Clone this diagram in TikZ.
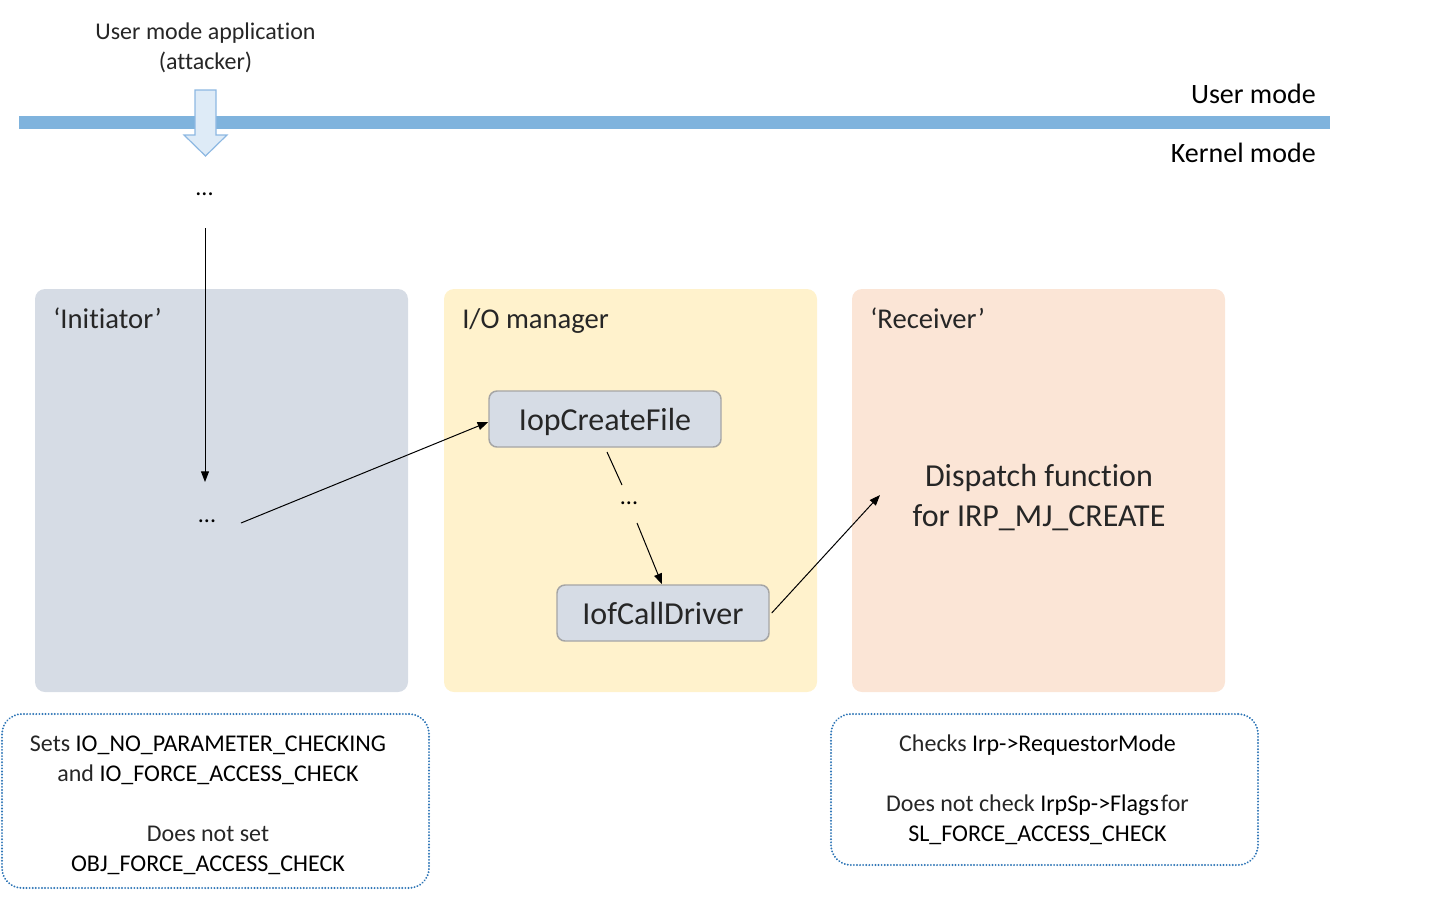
\documentclass[tikz,border=0pt]{standalone}
\usepackage{fontspec}
\setmainfont{Carlito}[Ligatures=NoCommon]
\usetikzlibrary{arrows.meta}
\definecolor{initfill}{HTML}{D6DCE5}
\definecolor{iofill}{HTML}{FFF2CC}
\definecolor{recvfill}{HTML}{FBE5D6}
\definecolor{fnborder}{HTML}{A5A5A5}
\definecolor{modeline}{HTML}{7FB3DD}
\definecolor{barrowfill}{HTML}{DEEBF7}
\definecolor{barrowdraw}{HTML}{8DB8E2}
\definecolor{dotblue}{HTML}{2E75B6}
\definecolor{lighttext}{HTML}{262626}
\tikzset{
  region/.style={fill=#1, draw=none, rounded corners=7.5pt, minimum width=279.75pt, minimum height=302.25pt, inner sep=0pt},
  regionlabel/.style={anchor=base west, font=\fontsize{21.5}{25}\selectfont, text=lighttext, inner sep=0pt},
  fnbox/.style={fill=initfill, draw=fnborder, line width=1.1pt, rounded corners=6pt, minimum height=42pt, inner sep=0pt, text depth=0pt, font=\fontsize{24}{29}\selectfont, text=lighttext},
  notebox/.style={draw=dotblue, line width=1.6pt, line cap=round, dash pattern=on 0.01pt off 2.3pt, rounded corners=15pt, minimum width=320.25pt, inner sep=0pt},
  notetext/.style={align=center, font=\fontsize{18}{22.5}\selectfont, text=lighttext, inner sep=0pt},
  dotsnode/.style={font=\fontsize{18}{22}\selectfont, inner sep=1pt},
  conn/.style={line width=0.75pt, -{Triangle[length=8pt,width=6pt]}},
  plainconn/.style={line width=0.75pt},
  modetext/.style={anchor=east, font=\fontsize{21}{25}\selectfont, inner sep=0pt}
}
\begin{document}
\begin{tikzpicture}[x=0.75pt,y=-0.75pt]
\useasboundingbox (0,0) rectangle (1447,901);
% mode separator
\draw[modeline, line width=9.75pt] (19,122.5) -- (1330,122.5);
\node[modetext] (umode) at (1316,94) {User mode};
\node[modetext] (kmode) at (1316,153) {Kernel mode};
% attacker
\node[align=center, font=\fontsize{18}{22.5}\selectfont, text=lighttext, inner sep=0pt] (app) at (205.5,48) {User mode application\\(attacker)};
\draw[fill=barrowfill, draw=barrowdraw, line width=0.9pt, line join=miter]
  (195,90) -- (216,90) -- (216,135) -- (227,135) -- (205.5,156) -- (184,135) -- (195,135) -- cycle;
\node[dotsnode] (dotsa) at (204.5,194) {...};
% regions
\node[region=initfill] (init) at (221.5,490.5) {};
\node[region=iofill] (iom) at (630.5,490.5) {};
\node[region=recvfill] (recv) at (1038.5,490.5) {};
\node[regionlabel] (initlab) at (53,328) {‘Initiator’};
\node[regionlabel] (iolab) at (462,328) {I/O manager};
\node[regionlabel] (recvlab) at (870,328) {‘Receiver’};
% functions
\node[fnbox, minimum width=174pt] (iop) at (605,419) {IopCreateFile};
\node[fnbox, minimum width=159pt] (icd) at (663,613) {IofCallDriver};
\node[dotsnode] (dotsb) at (207,521) {...};
\node[dotsnode] (dotsc) at (629,503) {...};
\node[align=center, font=\fontsize{24}{30}\selectfont, text=lighttext, inner sep=0pt] (disp) at (1039,498) {Dispatch function\\for IRP\_MJ\_CREATE};
% connector endpoints
\coordinate (va) at (205,228);
\coordinate (vb) at (205,482);
\coordinate (ha) at (241,523);
\coordinate (da) at (607,452);
\coordinate (db) at (622,485);
\coordinate (dc) at (637,523);
\coordinate (rb) at (880,495);
\draw[conn] (va) -- (vb);
\draw[conn] (ha) -- ([yshift=-2.25pt]iop.west);
\draw[plainconn] (da) -- (db);
\draw[conn] (dc) -- ([xshift=-0.75pt]icd.north);
\draw[conn] ([xshift=1.5pt]icd.east) -- (rb);
% notes
\node[notebox, minimum height=130.5pt] (noteleft) at (215.5,801) {};
\node[notetext] (notelefttext) at (208,805) {Sets \textcolor{black}{IO\_NO\_PARAMETER\_CHECKING}\\and \textcolor{black}{IO\_FORCE\_ACCESS\_CHECK}\\[22.5pt]Does not set\\\textcolor{black}{OBJ\_FORCE\_ACCESS\_CHECK}};
\node[notebox, minimum height=113.25pt] (noteright) at (1044.5,789.5) {};
\node[notetext] (noterighttext) at (1037.5,790) {Checks \textcolor{black}{Irp->RequestorMode}\\[22.5pt]Does not check \textcolor{black}{IrpSp->Flags}\kern1.5pt for\\\textcolor{black}{SL\_FORCE\_ACCESS\_CHECK}};
\end{tikzpicture}
\end{document}
